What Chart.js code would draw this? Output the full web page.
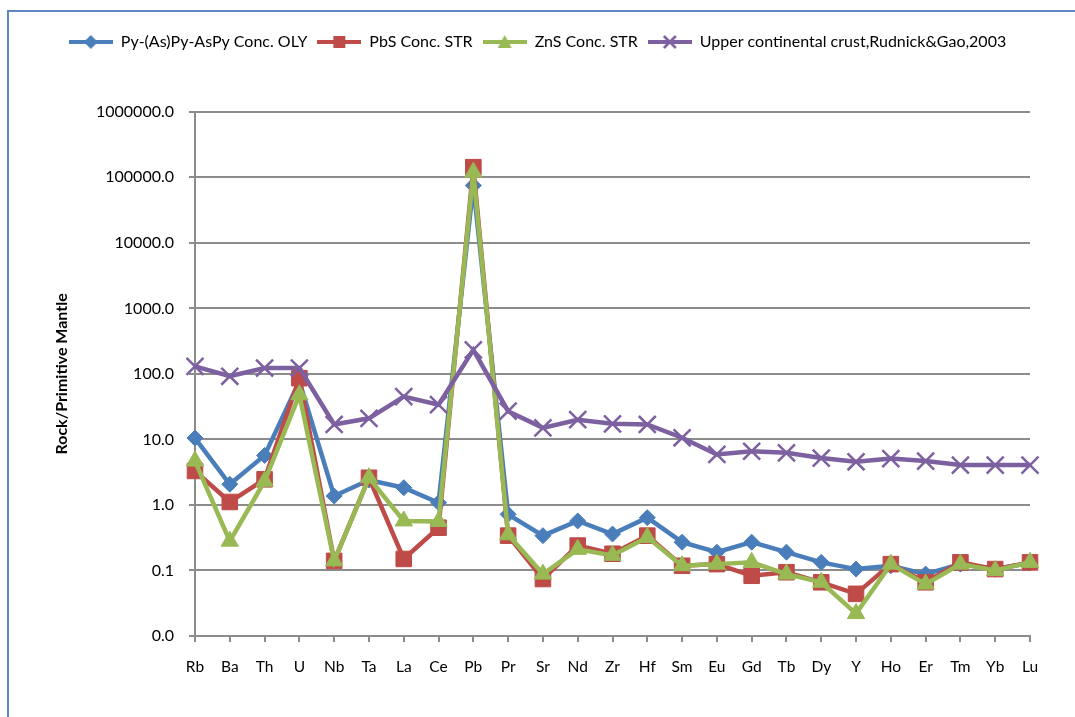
<!DOCTYPE html>
<html>
<head>
<meta charset="utf-8">
<script src="https://cdn.jsdelivr.net/npm/chart.js@4.4.1/dist/chart.umd.min.js"></script>
<style>
  html, body { margin: 0; padding: 0; background: #fff; }
  body { width: 1075px; height: 717px; position: relative; overflow: hidden; }
  .frame { position: absolute; left: 7px; top: 10px; width: 1100px; height: 720px;
           border-top: 2px solid #5B87C3; border-left: 2px solid #5B87C3; }
  canvas { position: absolute; left: 0; top: 0; }
</style>
</head>
<body>
<div class="frame"></div>
<canvas id="chart" width="1075" height="717"></canvas>
<script>
const categories = ["Rb", "Ba", "Th", "U", "Nb", "Ta", "La", "Ce", "Pb", "Pr", "Sr", "Nd", "Zr",
  "Hf", "Sm", "Eu", "Gd", "Tb", "Dy", "Y", "Ho", "Er", "Tm", "Yb", "Lu"];

const pyValues = [10.5, 2.07, 5.7, 77, 1.37, 2.4, 1.83, 1.08, 75000, 0.72, 0.34, 0.57, 0.36,
  0.64, 0.27, 0.19, 0.27, 0.19, 0.133, 0.105, 0.118, 0.088, 0.125, 0.105, 0.13];
const pbsValues = [3.3, 1.11, 2.46, 86, 0.14, 2.6, 0.15, 0.45, 143000, 0.34, 0.074, 0.24, 0.18,
  0.34, 0.118, 0.125, 0.083, 0.094, 0.066, 0.044, 0.125, 0.066, 0.133, 0.105, 0.133];
const znsValues = [4.67, 0.28, 2.3, 48, 0.14, 2.6, 0.57, 0.56, 120000, 0.35, 0.088, 0.21, 0.17,
  0.32, 0.118, 0.125, 0.133, 0.088, 0.066, 0.022, 0.125, 0.062, 0.125, 0.1, 0.133];
const uccValues = [130, 92, 123, 123, 16.9, 21, 45, 34, 233, 27, 15, 20, 17.3,
  16.9, 10.6, 5.9, 6.6, 6.25, 5.2, 4.56, 5.1, 4.67, 4.06, 4.06, 4.06];

const yTicks = [0.01, 0.1, 1, 10, 100, 1000, 10000, 100000, 1000000];

const FONT = "Lato, 'Liberation Sans', sans-serif";
const GRID = "#8c8c8c";

// little line+marker pictures for the legend
const legendIcon = (color, style) => {
  const c = document.createElement("canvas");
  c.width = 44; c.height = 18;
  const g = c.getContext("2d");
  g.strokeStyle = color; g.fillStyle = color; g.lineWidth = 4;
  g.beginPath(); g.moveTo(0, 9); g.lineTo(44, 9); g.stroke();
  g.beginPath();
  if (style === "diamond") {
    g.moveTo(22, 2); g.lineTo(29, 9); g.lineTo(22, 16); g.lineTo(15, 9); g.closePath(); g.fill();
  } else if (style === "square") {
    g.fillRect(16, 3, 12, 12);
  } else if (style === "triangle") {
    g.moveTo(22, 2); g.lineTo(29, 15); g.lineTo(15, 15); g.closePath(); g.fill();
  } else {
    g.lineWidth = 2.5;
    g.moveTo(16, 3); g.lineTo(28, 15); g.moveTo(28, 3); g.lineTo(16, 15); g.stroke();
  }
  return c;
};

const series = [
  { label: "Py-(As)Py-AsPy Conc. OLY", data: pyValues, color: "#4A7EBB", style: "rectRot", icon: "diamond", r: 8, order: 4 },
  { label: "PbS Conc. STR", data: pbsValues, color: "#BE4B48", style: "rect", icon: "square", r: 11, order: 3 },
  { label: "ZnS Conc. STR", data: znsValues, color: "#98B954", style: "triangle", icon: "triangle", r: 10, order: 2 },
  { label: "Upper continental crust,Rudnick&Gao,2003", data: uccValues, color: "#7D60A0", style: "crossRot", icon: "cross", r: 12, order: 1 },
];

new Chart(document.getElementById("chart"), {
  type: "line",
  data: {
    labels: categories,
    datasets: series.map((s) => ({
      label: s.label,
      data: s.data,
      borderColor: s.color,
      backgroundColor: s.color,
      borderWidth: 4.5,
      pointStyle: s.style,
      pointRadius: s.r,
      pointHoverRadius: s.r,
      pointBorderWidth: s.style === "crossRot" ? 2.5 : 1,
      pointBackgroundColor: s.color,
      pointBorderColor: s.color,
      tension: 0,
      order: s.order,
      legendIcon: legendIcon(s.color, s.icon),
    })),
  },
  options: {
    responsive: false,
    animation: false,
    devicePixelRatio: 1,
    layout: { padding: { left: 45, right: 45, top: 24, bottom: 20 } },
    plugins: {
      tooltip: { enabled: false },
      legend: {
        position: "top",
        weight: 3000,
        labels: {
          usePointStyle: true,
          pointStyleWidth: 44,
          padding: 10,
          color: "#000",
          font: { family: FONT, size: 16 },
          generateLabels: (chart) =>
            chart.data.datasets.map((d, i) => ({
              text: d.label,
              pointStyle: d.legendIcon,
              fontColor: "#000",
              lineWidth: 0,
              datasetIndex: i,
            })),
        },
      },
      // empty spacer between legend and plot
      title: { display: true, text: "", weight: 100, padding: { top: 17, bottom: 18 }, font: { size: 14 } },
    },
    scales: {
      x: {
        type: "category",
        offset: false,
        afterFit: (s) => { s.height = 61; },
        grid: { display: true, drawOnChartArea: false, drawTicks: true, tickLength: 6, color: GRID, lineWidth: 2 },
        border: { display: true, color: GRID, width: 2 },
        ticks: { color: "#000", padding: 16, font: { family: FONT, size: 15.5 }, maxRotation: 0, autoSkip: false },
      },
      y: {
        type: "logarithmic",
        min: 0.01,
        max: 1000000,
        afterFit: (s) => { s.width = 150; },
        afterBuildTicks: (s) => { s.ticks = yTicks.map((v) => ({ value: v })); },
        grid: { color: GRID, lineWidth: 2, tickLength: 6 },
        border: { display: true, color: GRID, width: 2 },
        ticks: {
          color: "#000",
          padding: 15,
          font: { family: FONT, size: 16 },
          callback: (v) => Number(v).toFixed(1),
        },
        title: {
          display: true,
          text: "Rock/Primitive Mantle",
          color: "#000",
          font: { family: FONT, size: 16, weight: "bold" },
          padding: { top: 7, bottom: 10 },
        },
      },
    },
  },
});
</script>
</body>
</html>
